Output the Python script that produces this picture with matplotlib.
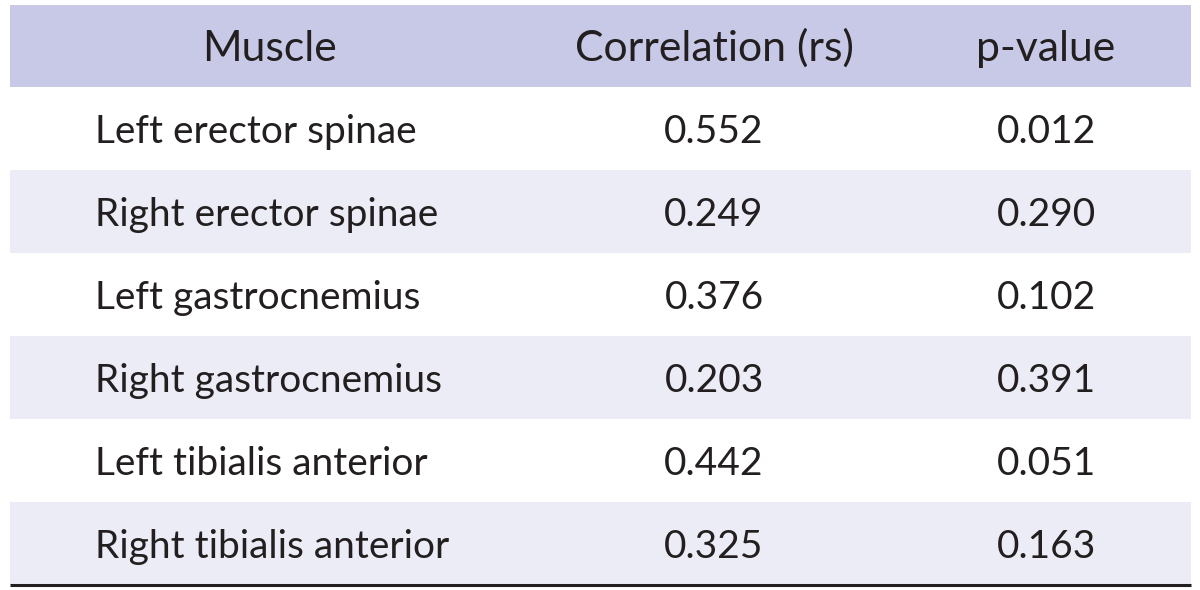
import matplotlib
matplotlib.use("Agg")
import matplotlib.pyplot as plt
from matplotlib.patches import Rectangle

headers = ["Muscle", "Correlation (rs)", "p-value"]
muscles = ["Left erector spinae", "Right erector spinae", "Left gastrocnemius",
           "Right gastrocnemius", "Left tibialis anterior", "Right tibialis anterior"]
correlation = ["0.552", "0.249", "0.376", "0.203", "0.442", "0.325"]
p_values = ["0.012", "0.290", "0.102", "0.391", "0.051", "0.163"]

plt.rcParams['font.family'] = ['Lato', 'DejaVu Sans']

fig = plt.figure(figsize=(12, 5.9), dpi=100)
ax = fig.add_axes([0, 0, 1, 1])
ax.set_xlim(0, 1200)
ax.set_ylim(590, 0)
ax.axis('off')

left, right = 10, 1191
header_top, header_bot = 5, 87
row_h = 83
header_color = '#c8c9e6'
band_color = '#ececf6'
fs_head = 30.8
fs = 28
txt = '#231f20'

ax.add_patch(Rectangle((left, header_top), right - left, header_bot - header_top,
                       facecolor=header_color, edgecolor='none'))
col_x = [270, 714, 1046]
hy = (header_top + header_bot) / 2
for x, h in zip(col_x, headers):
    ax.text(x, hy + 15, h, ha='center', va='baseline', fontsize=fs_head, color=txt)

for i, (m, c, p) in enumerate(zip(muscles, correlation, p_values)):
    top = header_bot + i * row_h
    if i % 2 == 1:
        ax.add_patch(Rectangle((left, top), right - left, row_h,
                               facecolor=band_color, edgecolor='none'))
    cy = top + row_h / 2 + 14.2
    ax.text(95, cy, m, ha='left', va='baseline', fontsize=fs, color=txt)
    ax.text(col_x[1], cy, c, ha='center', va='baseline', fontsize=fs, color=txt)
    ax.text(col_x[2], cy, p, ha='center', va='baseline', fontsize=fs, color=txt)

bottom = header_bot + len(muscles) * row_h
ax.plot([left, right], [bottom, bottom], color=txt, lw=2.2, solid_capstyle='butt')

fig.savefig('out.png', dpi=100, facecolor='white')
